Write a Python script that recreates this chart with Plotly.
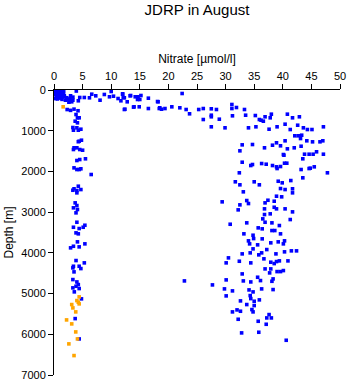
import plotly.graph_objects as go

# Blue series: nitrate (umol/l) and depth (m)
blue_points = [
    # surface block
    (0.2,10),(0.6,20),(1.0,5),(1.4,15),(0.3,60),(0.8,70),(1.2,55),(1.6,80),(0.1,110),(0.5,120),
    (0.9,105),(1.3,130),(0.4,170),(0.7,160),(1.1,180),(1.5,165),(0.2,210),(0.6,220),(1.0,200),(1.4,230),
    (1.7,45),(1.8,140),(2.2,190),(2.8,205),(3.3,175),(2.0,250),(2.6,300),(3.1,290),(3.9,25),
    # shallow transition
    (2.9,143),(1.8,167),(2.5,225),(3.3,250),(4.25,265),(4.5,184),(5.3,184),(6.2,192),(6.6,103),(7.3,143),
    (8.05,250),(8.8,110),(9.7,167),(10.0,37),(10.4,152),(11.2,209),(11.7,265),(12.0,103),(12.1,184),
    (12.4,472),(13.3,143),(14.0,413),(14.7,167),(14.9,413),(15.0,233),(16.5,201),(16.5,455),(18.1,283),
    (18.4,455),(12.0,93),(12.3,192),(13.4,135),(14.2,167),(14.6,233),(15.2,135),(12.8,290),(12.3,479),
    (13.9,420),
    (22.4,86),(18.2,290),(18.5,437),(18.8,472),(19.4,455),(20.6,413),(22.0,437),(23.1,479),(23.7,585),
    (25.3,479),(26.1,455),(26.1,725),(27.5,462),(27.5,619),(27.5,658),(28.4,479),(28.9,717),(27.5,904),
    (29.9,929),(31.1,356),(31.1,455),(31.9,430),(31.2,634),(33.3,479),(33.5,619),(35.2,627),(35.9,725),
    (34.0,929),(35.3,904),
    # deep cloud
    (36.9,658),(37.8,683),(38.0,594),(36.2,742),(36.6,766),(37.6,963),(39.0,904),(40.4,840),(40.8,594),
    (41.7,683),(42.9,658),(41.3,971),(42.6,865),(43.6,929),(44.3,971),(45.1,971),(47.1,904),(42.1,1125),
    (42.7,1125),(43.3,1110),(43.1,1192),(44.2,1248),(45.2,1273),(46.5,1273),(47.0,1248),(40.4,1248),
    (38.9,1297),(39.6,1371),(38.2,1356),(36.8,1420),(34.7,1339),(40.8,1445),(42.0,1420),(43.2,1381),
    (43.8,1577),(44.6,1577),(45.3,1577),(45.9,1518),(47.1,1577),(40.2,1602),(43.5,1690),(34.7,1830),
    (36.3,1806),(37.1,1823),(38.2,1855),(38.9,1887),(39.6,1880),(40.3,1798),(40.7,1798),(43.2,1953),
    (44.8,1921),(45.5,1887),(47.8,2034),
    (32.9,1347),(32.5,1494),(32.9,1774),(34.4,1855),(32.4,2034),(31.7,2255),(32.5,2329),(33.1,2501),
    (35.0,2255),(35.9,2329),(29.4,2747),(32.5,2821),(32.2,2944),(33.7,2715),(34.0,2789),(36.5,3165),
    (36.9,3248),(36.8,3059),(36.8,2919),(36.9,2772),(37.4,2708),(37.8,3042),(38.5,2732),(38.9,2609),
    (38.5,2880),(39.2,2241),(39.9,2280),(39.6,2420),(40.4,2445),(39.8,2624),(38.9,2919),(40.4,2919),
    (41.4,2224),(41.7,2427),(41.7,2526),(41.7,2993),(41.3,3182),(43.5,2157),(40.1,1585),(39.0,1929),
    (44.6,1929),
    (30.8,3297),(33.7,3263),(35.7,3386),(36.4,3410),(38.1,3263),(38.6,3452),(38.1,3452),(39.4,3329),
    (33.2,3533),(34.8,3567),(34.9,3649),(34.0,3705),(34.2,3779),(35.6,3803),(36.4,3656),(37.9,3754),
    (39.2,3730),(39.6,3533),(40.3,3705),(40.1,3779),(34.8,3902),(34.3,4000),(32.9,4025),(30.5,4123),
    (30.1,4246),(32.4,4206),(34.4,4246),(35.8,4049),(36.3,4000),(37.2,3919),(36.7,4147),(37.9,4230),
    (38.5,4263),(38.9,4214),(39.4,4197),(38.8,4025),(40.3,3975),(41.5,3951),(42.4,3951),(40.9,4197),
    (36.9,4394),(37.9,4394),(37.7,4492),(38.3,4640),(39.0,4460),(39.6,4460),(40.1,4435),(32.9,4517),
    (22.8,4689),(27.7,4787),(30.1,4664),(33.1,4689),(34.4,4714),(35.6,4599),(36.1,4681),(38.1,4698),
    (29.8,4885),(31.2,4934),(30.1,5057),(34.1,4910),(34.8,4959),(36.3,4885),(38.3,4902),(34.3,5049),
    (34.4,5123),(35.0,5189),(35.9,5155),(32.6,5180),(33.7,5270),(35.0,5295),(32.0,5401),(32.6,5434),
    (31.2,5450),(34.6,5393),(34.8,5450),(32.2,5631),(35.7,5680),(37.6,5516),(37.2,5598),(38.0,5598),
    (37.1,5754),(32.8,5966),(35.8,5950),(40.6,6147),
    # low-nitrate column
    (2.3,480),(2.9,500),(3.5,470),(4.2,510),(3.85,602),(4.1,683),(4.4,683),(3.7,766),(4.1,806),
    (3.3,921),(4.0,929),(4.7,963),(3.4,988),(4.25,988),(4.4,1258),(4.8,1233),(4.25,1270),(3.5,1420),
    (4.0,1420),(3.4,1462),(4.5,1462),(5.0,1479),(4.0,1732),(4.5,1708),(5.5,1690),(3.5,1912),(4.0,1953),
    (4.4,1953),(4.7,1936),(6.5,2076),(3.5,2427),(4.0,2469),(4.25,2363),(4.7,2445),(3.3,2462),(4.0,2526),
    (3.7,2772),(4.0,2838),(3.4,2894),(4.1,2936),(3.85,3017),(4.0,3248),(3.4,3371),(4.4,3403),(5.1,3371),
    (5.4,3322),(3.85,3509),(4.25,3533),(4.1,3730),(5.4,3779),(2.9,3877),(3.4,3838),(4.4,3853),
    (3.85,4189),(5.3,4246),(3.4,4329),(3.3,4369),(4.4,4329),(4.7,4386),(3.5,4467),(3.3,4656),(4.0,4714),
    (4.25,4779),(3.85,4820),(3.3,4860),(4.4,4877),(3.55,4958),(4.8,5130),(3.7,5615),(4.4,6114),
]
blue_nitrate = [p[0] for p in blue_points]
blue_depth = [p[1] for p in blue_points]

# Orange series
orange_nitrate = [1.6, 4.4, 4.0, 4.25, 4.4, 3.1, 3.3, 3.8, 2.2, 3.1, 3.8, 4.1, 2.6, 3.5]
orange_depth = [413, 5081, 5172, 5213, 5253, 5270, 5352, 5450, 5647, 5745, 5942, 6114, 6236, 6523]

x_ticks = [0, 5, 10, 15, 20, 25, 30, 35, 40, 45, 50]
y_ticks = [0, 1000, 2000, 3000, 4000, 5000, 6000, 7000]

FONT = "Liberation Sans, Arial, sans-serif"

fig = go.Figure()
fig.add_trace(go.Scatter(x=blue_nitrate, y=blue_depth, mode="markers",
                         marker=dict(symbol="square", size=3.6, color="#0000ff", line=dict(width=0)),
                         showlegend=False, hoverinfo="skip"))
fig.add_trace(go.Scatter(x=orange_nitrate, y=orange_depth, mode="markers",
                         marker=dict(symbol="square", size=3.6, color="#ffa500", line=dict(width=0)),
                         showlegend=False, hoverinfo="skip"))

fig.update_layout(
    width=348, height=384,
    margin=dict(l=54, r=8, t=90, b=9),
    paper_bgcolor="white", plot_bgcolor="white",
    font=dict(family=FONT, size=11, color="black"),
    title=dict(text="JDRP in August", x=0.5, xanchor="center", xref="paper",
               y=1 - 10 / 384, yref="container", yanchor="middle",
               font=dict(family=FONT, size=15, color="black")),
    xaxis=dict(side="top", range=[0, 50], tickvals=x_ticks, ticktext=[str(v) for v in x_ticks],
               ticks="outside", ticklen=5, tickwidth=1, tickcolor="black",
               showline=True, linecolor="black", linewidth=1, mirror=False,
               showgrid=False, zeroline=False, automargin=False,
               title=dict(text="Nitrate [µmol/l]", standoff=3, font=dict(family=FONT, size=12)),
               tickfont=dict(family=FONT, size=11)),
    yaxis=dict(range=[7000, 0], tickvals=y_ticks, ticktext=[str(v) for v in y_ticks],
               ticks="outside", ticklen=5, tickwidth=1, tickcolor="black",
               showline=True, linecolor="black", linewidth=1, mirror=False,
               showgrid=False, zeroline=False, automargin=False,
               title=dict(text="Depth [m]", standoff=5, font=dict(family=FONT, size=12)),
               tickfont=dict(family=FONT, size=11)),
)

fig.write_html("out.html")
